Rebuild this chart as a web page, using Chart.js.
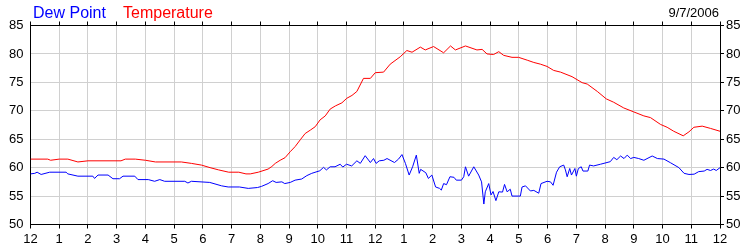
<!DOCTYPE html>
<html>
<head>
<meta charset="utf-8">
<script src="https://cdn.jsdelivr.net/npm/chart.js@4/dist/chart.umd.min.js"></script>
<style>
    html, body { margin: 0; padding: 0; background: #fff; }
    #wrap { width: 750px; height: 250px; position: relative; }
</style>
</head>
<body>
<div id="wrap"><canvas id="weatherChart" width="750" height="250"></canvas></div>
<script>
// hour labels along the time axis (midnight to midnight)
const hourLabels = ['12', '1', '2', '3', '4', '5', '6', '7', '8', '9', '10', '11',
    '12', '1', '2', '3', '4', '5', '6', '7', '8', '9', '10', '11', '12'];

// temperature readings: hours since midnight / degrees F
const tempHours = [0, 0.6, 0.7, 1.0, 1.3, 1.65, 2.0, 3.15, 3.3, 3.65, 4.0, 4.35, 5.25, 5.6, 5.95,
    6.25, 6.55, 6.9, 7.25, 7.5, 7.65, 7.93, 8.27, 8.4, 8.52, 8.69, 8.86, 9.04, 9.21, 9.39,
    9.56, 9.74, 9.91, 10.08, 10.26, 10.43, 10.61, 10.84, 11.01, 11.19, 11.36, 11.59, 11.83, 12.0,
    12.29, 12.52, 12.87, 13.1, 13.28, 13.57, 13.74, 14.03, 14.38, 14.62, 14.79, 15.14, 15.54,
    15.72, 15.89, 16.12, 16.3, 16.47, 16.76, 16.99, 17.29, 17.52, 17.75, 17.98, 18.21, 18.45,
    18.85, 19.2, 19.38, 19.73, 20.04, 20.3, 20.65, 21.0, 21.35, 21.58, 21.93, 22.16, 22.39,
    22.72, 22.92, 23.09, 23.38, 23.67, 24.0];
const tempValues = [61.5, 61.5, 61.3, 61.5, 61.5, 61.0, 61.2, 61.2, 61.5, 61.5, 61.3, 61.0, 61.0, 60.75, 60.45,
    60.0, 59.6, 59.2, 59.2, 58.9, 58.9, 59.2, 59.75, 60.2, 60.75, 61.3, 61.75, 62.8, 63.7, 64.9,
    66.0, 66.6, 67.2, 68.4, 69.1, 70.3, 70.85, 71.4, 72.2, 72.7, 73.4, 75.7, 75.7, 76.7,
    76.8, 78.2, 79.5, 80.6, 80.3, 81.2, 80.7, 81.3, 80.2, 81.4, 80.7, 81.4, 80.7,
    80.8, 80.0, 79.9, 80.4, 79.75, 79.4, 79.4, 78.9, 78.5, 78.2, 77.8, 77.1, 76.8,
    76.0, 74.95, 74.7, 73.4, 72.1, 71.5, 70.5, 69.8, 69.1, 68.8, 67.6, 67.1, 66.4,
    65.6, 66.3, 67.1, 67.3, 66.9, 66.4];

// dew point readings: hours since midnight / degrees F
const dewHours = [0, 0.15, 0.23, 0.37, 0.67, 1.24, 1.3, 1.65, 2.17, 2.23, 2.35, 2.7, 2.87, 3.1, 3.22,
    3.63, 3.74, 4.1, 4.32, 4.5, 4.67, 5.37, 5.48, 5.6, 6.24, 6.65, 6.88, 7.27, 7.58, 7.9,
    8.04, 8.27, 8.43, 8.55, 8.75, 8.85, 9.04, 9.21, 9.44, 9.62, 9.79, 10.07, 10.2, 10.3,
    10.43, 10.6, 10.78, 10.87, 11.0, 11.18, 11.36, 11.48, 11.65, 11.83, 11.94, 12.03, 12.14,
    12.3, 12.41, 12.67, 12.81, 12.93, 13.05, 13.18, 13.3, 13.43, 13.53, 13.58, 13.76, 13.85,
    13.97, 14.1, 14.24, 14.3, 14.38, 14.48, 14.6, 14.74, 14.82, 15.0, 15.08, 15.14, 15.25,
    15.43, 15.6, 15.7, 15.78, 15.83, 15.95, 16.03, 16.1, 16.2, 16.3, 16.43, 16.5, 16.59,
    16.7, 16.76, 17.05, 17.11, 17.23, 17.4, 17.52, 17.69, 17.77, 17.98, 18.1, 18.19, 18.31,
    18.42, 18.56, 18.62, 18.68, 18.77, 18.83, 18.95, 19.0, 19.07, 19.17, 19.23, 19.4, 19.46,
    19.6, 19.84, 20.18, 20.3, 20.41, 20.54, 20.66, 20.77, 20.89, 21.0, 21.17, 21.35, 21.64,
    21.82, 22.05, 22.28, 22.57, 22.75, 22.92, 23.1, 23.26, 23.45, 23.55, 23.67, 23.78, 23.87, 24.0];
const dewValues = [58.9, 59.0, 59.2, 58.8, 59.2, 59.2, 58.9, 58.5, 58.5, 58.1, 58.7, 58.7, 58.05, 58.05, 58.5,
    58.5, 57.9, 57.9, 57.6, 57.9, 57.6, 57.6, 57.3, 57.6, 57.4, 56.8, 56.6, 56.6, 56.35, 56.5,
    56.7, 57.2, 57.7, 57.4, 57.5, 57.2, 57.4, 57.8, 58.0, 58.6, 59.0, 59.45, 60.05, 59.6,
    60.15, 60.15, 60.6, 60.1, 60.6, 60.3, 61.2, 60.75, 62.1, 60.9, 61.6, 60.75, 61.2,
    61.3, 61.6, 60.9, 61.5, 62.3, 60.75, 58.7, 60.15, 62.2, 59.0, 59.7, 59.1, 58.1,
    58.7, 56.6, 56.35, 56.05, 57.2, 57.0, 58.4, 58.3, 57.8, 57.8, 58.4, 60.15, 58.5,
    60.15, 58.7, 57.5, 53.6, 55.75, 57.2, 55.2, 55.8, 54.2, 55.75, 55.7, 57.05, 55.75,
    56.2, 55.0, 55.0, 56.6, 56.8, 55.9, 56.0, 55.5, 57.2, 57.6, 57.5, 56.9, 59.2,
    60.15, 60.45, 59.6, 58.4, 59.85, 58.7, 59.85, 58.5, 59.85, 60.15, 59.4, 59.4, 60.45,
    60.3, 60.6, 61.05, 61.8, 61.4, 62.05, 61.6, 62.2, 61.6, 61.8, 61.6, 61.3, 62.05,
    61.6, 61.5, 60.85, 60.0, 59.0, 58.8, 58.85, 59.3, 59.4, 59.7, 59.5, 59.75, 59.5, 60.0];

const chartDate = '9/7/2006';

const FONT = '"Liberation Sans", Arial, sans-serif';
const GRID = '#d0d0d0';

function toPoints(hours, values) {
    return hours.map((h, i) => ({ x: h, y: values[i] }));
}

// legend text and date sit above the plot
const headerText = {
    id: 'headerText',
    afterDraw(chart) {
        const ctx = chart.ctx;
        ctx.save();
        ctx.textBaseline = 'alphabetic';
        ctx.font = '16px ' + FONT;
        ctx.textAlign = 'left';
        ctx.fillStyle = '#0000ff';
        ctx.fillText('Dew Point', 33, 18);
        ctx.fillStyle = '#ff0000';
        ctx.fillText('Temperature', 123, 18);
        ctx.font = '13px ' + FONT;
        ctx.fillStyle = '#000';
        ctx.textAlign = 'right';
        ctx.fillText(chartDate, 719, 17);
        ctx.restore();
    }
};

function initChart() {
    const ctx = document.getElementById('weatherChart').getContext('2d');

    new Chart(ctx, {
        type: 'line',
        data: {
            datasets: [{
                label: 'Dew Point',
                data: toPoints(dewHours, dewValues),
                borderColor: '#0000ff',
                borderWidth: 1,
                pointRadius: 0,
                tension: 0,
                yAxisID: 'y'
            }, {
                label: 'Temperature',
                data: toPoints(tempHours, tempValues),
                borderColor: '#ff0000',
                borderWidth: 1,
                pointRadius: 0,
                tension: 0,
                yAxisID: 'y'
            }]
        },
        options: {
            responsive: false,
            animation: false,
            events: [],
            layout: { padding: 0 },
            plugins: {
                legend: { display: false },
                tooltip: { enabled: false }
            },
            scales: {
                x: {
                    type: 'linear',
                    position: 'bottom',
                    min: 0,
                    max: 24,
                    afterFit: s => { s.height = 25.5; },
                    border: { color: '#000', width: 1 },
                    grid: { color: GRID, tickColor: '#000', tickLength: 4 },
                    ticks: {
                        stepSize: 1,
                        autoSkip: false,
                        maxRotation: 0,
                        padding: 3,
                        color: '#000',
                        font: { family: FONT, size: 13 },
                        callback: v => hourLabels[v]
                    }
                },
                xTop: {
                    type: 'linear',
                    position: 'top',
                    min: 0,
                    max: 24,
                    afterFit: s => { s.height = 25.5; },
                    border: { color: '#000', width: 1 },
                    grid: { drawOnChartArea: false, tickColor: '#000', tickLength: 4 },
                    ticks: { stepSize: 1, display: false }
                },
                y: {
                    position: 'left',
                    min: 50,
                    max: 85,
                    afterFit: s => { s.width = 30.5; },
                    border: { color: '#000', width: 1 },
                    grid: { color: GRID, drawTicks: false },
                    ticks: {
                        stepSize: 5,
                        padding: 7,
                        color: '#000',
                        font: { family: FONT, size: 13 }
                    }
                },
                yRight: {
                    position: 'right',
                    min: 50,
                    max: 85,
                    afterFit: s => { s.width = 30; },
                    border: { color: '#000', width: 1 },
                    grid: { drawOnChartArea: false, tickColor: '#000', tickLength: 4 },
                    ticks: {
                        stepSize: 5,
                        padding: 2,
                        color: '#000',
                        font: { family: FONT, size: 13 }
                    }
                }
            }
        },
        plugins: [headerText]
    });
}

initChart();
</script>
</body>
</html>
